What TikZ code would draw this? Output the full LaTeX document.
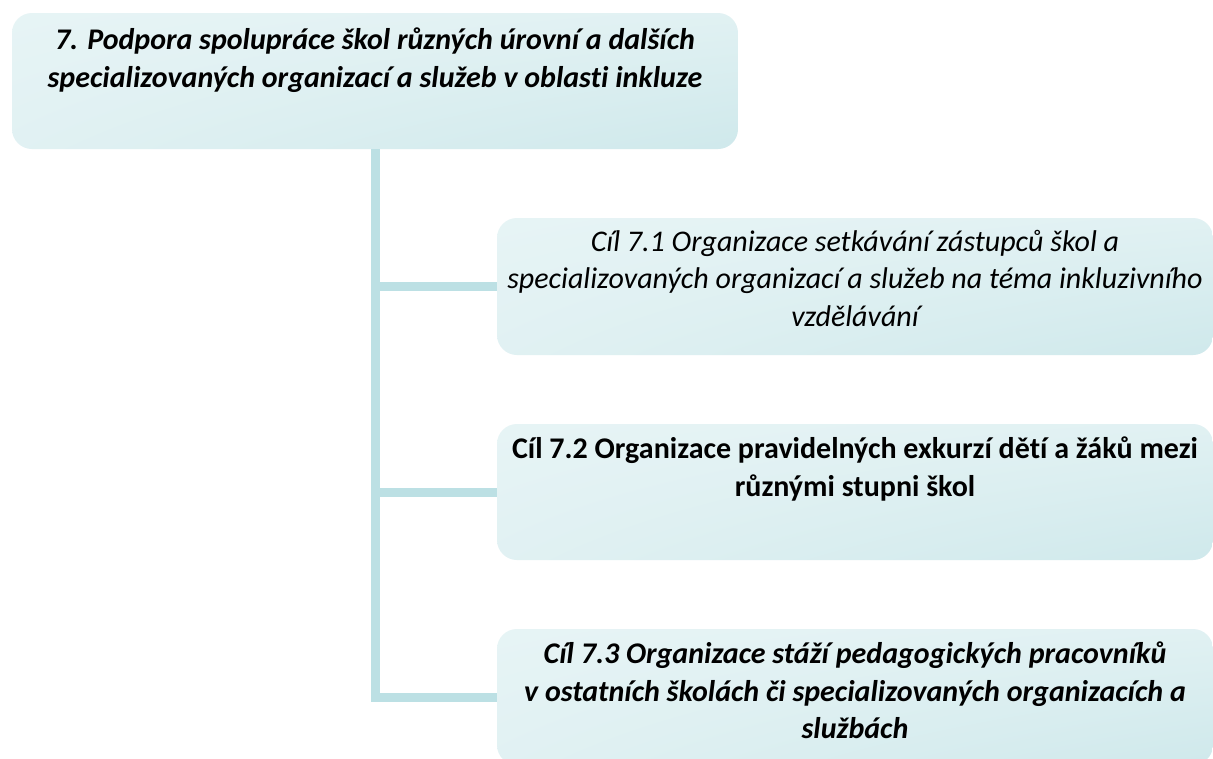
\documentclass[tikz,border=0pt]{standalone}
\usepackage{fontspec}
\setmainfont{Carlito}[Ligatures=NoCommon]
\definecolor{connc}{HTML}{BCE0E4}
\pgfdeclarefunctionalshading{boxshade}{\pgfpointorigin}{\pgfpoint{100bp}{100bp}}{}{
  exch 100 div exch 100 exch sub 100 div mul
  dup dup
  -0.185 mul 0.916 add
  3 1 roll
  -0.088 mul 0.962 add
  exch
  -0.077 mul 0.966 add
}
\tikzset{
  goalbox/.style={rectangle, rounded corners=20pt, inner sep=0pt, shading=boxshade},
  conn/.style={draw=connc, line width=9pt, line join=miter},
  goaltext/.style={align=center, inner sep=0pt, anchor=north}
}
\begin{document}
\begin{tikzpicture}[x=1pt,y=-1pt]
\clip (0,0) rectangle (1213,758);
\useasboundingbox (0,0) rectangle (1213,758);
\fill[white] (0,0) rectangle (1213,758);
\node[goalbox, minimum width=726pt, minimum height=136pt] (top) at (375,81) {};
\node[goalbox, minimum width=716pt, minimum height=137pt] (c1) at (855,286.5) {};
\node[goalbox, minimum width=716pt, minimum height=136pt] (c2) at (855,492) {};
\node[goalbox, minimum width=716pt, minimum height=136pt] (c3) at (855,697) {};
\draw[conn] (top.south) |- (c3.west);
\draw[conn] (top.south) |- (c1.west);
\draw[conn] (top.south) |- (c2.west);
\node[goaltext, font=\fontsize{30}{37.4}\selectfont\bfseries\itshape] (ttop) at (375,28)
  {7. Podpora spolupráce škol různých úrovní a dalších\\specializovaných organizací a služeb v oblasti inkluze};
\node[goaltext, font=\fontsize{30}{37.4}\selectfont\itshape] (t1) at (855,230)
  {Cíl 7.1 Organizace setkávání zástupců škol a\\specializovaných organizací a služeb na téma inkluzivního\\vzdělávání};
\node[goaltext, font=\fontsize{30}{37.4}\selectfont\bfseries] (t2) at (855,437)
  {Cíl 7.2 Organizace pravidelných exkurzí dětí a žáků mezi\\různými stupni škol};
\node[goaltext, font=\fontsize{30}{37.4}\selectfont\bfseries\itshape] (t3) at (855,642)
  {Cíl 7.3 Organizace stáží pedagogických pracovníků\\v ostatních školách či specializovaných organizacích a\\službách};
\end{tikzpicture}
\end{document}
